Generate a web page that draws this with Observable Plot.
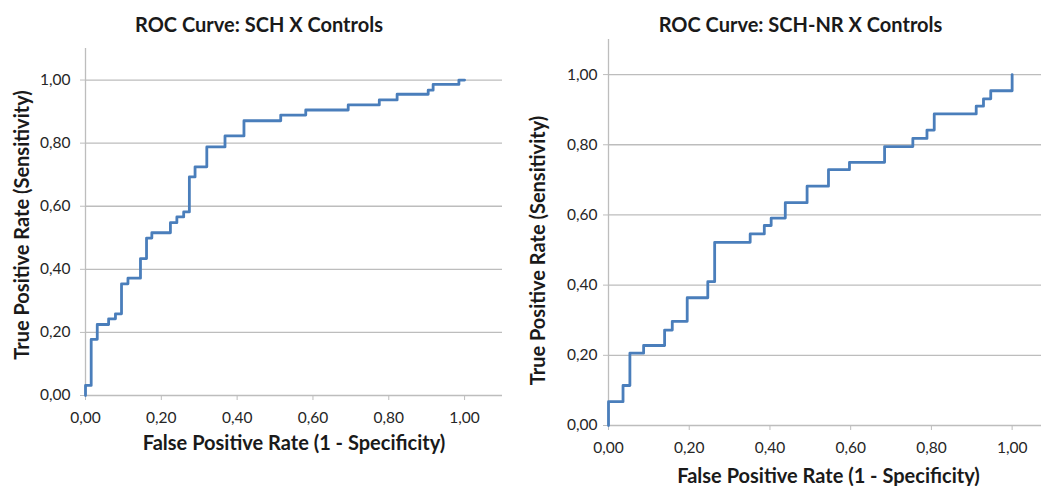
<!DOCTYPE html>
<html>
<head>
<meta charset="utf-8">
<script src="https://cdn.jsdelivr.net/npm/d3@7"></script>
<script src="https://cdn.jsdelivr.net/npm/@observablehq/plot@0.6"></script>
<style>
  html, body { margin: 0; padding: 0; background: #fff; }
  #wrap { position: relative; width: 1041px; height: 486px; overflow: hidden; }
  #left, #right { position: absolute; top: 0; }
  #left { left: 0; width: 520px; }
  #right { left: 520px; width: 540px; }
  svg { max-width: none !important; }
</style>
</head>
<body>
<div id="wrap"><div id="left"></div><div id="right"></div></div>
<script>
const tickValues = [0, 0.2, 0.4, 0.6, 0.8, 1.0];

const titleLeft = "ROC Curve: SCH X Controls";
const fprLeft = [0, 0, 0.015, 0.031, 0.061, 0.079, 0.095, 0.112, 0.145, 0.161, 0.175, 0.224, 0.241, 0.259, 0.274, 0.289, 0.320, 0.368, 0.418, 0.515, 0.581, 0.693, 0.775, 0.822, 0.904, 0.917, 0.985, 1.0];
const tprLeft = [0, 0.032, 0.178, 0.225, 0.243, 0.259, 0.354, 0.372, 0.434, 0.499, 0.516, 0.548, 0.566, 0.582, 0.693, 0.725, 0.788, 0.823, 0.871, 0.889, 0.905, 0.921, 0.937, 0.955, 0.968, 0.986, 1.0, 1.0];

const titleRight = "ROC Curve: SCH-NR X Controls";
const fprRight = [0, 0, 0.036, 0.053, 0.087, 0.139, 0.158, 0.195, 0.246, 0.263, 0.351, 0.386, 0.403, 0.438, 0.492, 0.545, 0.597, 0.684, 0.754, 0.789, 0.807, 0.911, 0.929, 0.947, 1.0];
const tprRight = [0, 0.068, 0.114, 0.206, 0.228, 0.272, 0.297, 0.364, 0.410, 0.522, 0.546, 0.570, 0.591, 0.635, 0.682, 0.729, 0.750, 0.795, 0.818, 0.842, 0.888, 0.910, 0.931, 0.954, 1.0];

const xLabel = "False Positive Rate (1 - Specificity)";
const yLabel = "True Positive Rate (Sensitivity)";

const fmt = d => d.toFixed(2).replace(".", ",");
const font = "Lato, 'Open Sans', sans-serif";

function roc(opts) {
  const data = opts.fpr.map((x, i) => ({fpr: x, tpr: opts.tpr[i]}));
  const label = {fontSize: opts.fs, fontWeight: "bold", fill: "#1a1a1a", textAnchor: "middle", lineAnchor: "middle"};
  return Plot.plot({
    width: opts.width,
    height: 486,
    marginLeft: opts.ml,
    marginRight: opts.mr,
    marginTop: opts.mt,
    marginBottom: opts.mb,
    style: {fontFamily: font, fontSize: "15.5px", color: "#262626", background: "#fff", overflow: "visible", maxWidth: "none"},
    x: {domain: [0, 1.1], axis: null},
    y: {domain: [0, 1.1], axis: null},
    marks: [
      Plot.ruleY(tickValues.slice(1), {stroke: "#bdbdbd", strokeWidth: 1.3}),
      Plot.ruleY([0], {stroke: "#bdbdbd", strokeWidth: 1.3}),
      Plot.ruleX([0], {stroke: "#bdbdbd", strokeWidth: 1.3}),
      Plot.axisX({ticks: tickValues, tickFormat: fmt, tickSize: 5, tickPadding: opts.xpad, stroke: "#bdbdbd", label: null, fontSize: 15.5, fill: "#262626"}),
      Plot.axisY({ticks: tickValues, tickFormat: fmt, tickSize: 5, tickPadding: opts.ypad, stroke: "#bdbdbd", label: null, fontSize: 15.5, fill: "#262626"}),
      Plot.line(data, {x: "fpr", y: "tpr", curve: "step-after", stroke: "#4a7ebb", strokeWidth: 2.8}),
      Plot.text([opts.title], {frameAnchor: "top", dx: opts.tdx, dy: opts.tdy, ...label}),
      Plot.text([xLabel], {frameAnchor: "bottom", dx: opts.xdx, dy: opts.xdy, ...label}),
      Plot.text([yLabel], {frameAnchor: "left", dx: opts.ydx, dy: opts.ydy, rotate: -90, ...label})
    ]
  });
}

document.getElementById("left").append(roc({
  title: titleLeft, fpr: fprLeft, tpr: tprLeft,
  width: 520, ml: 85, mr: 18, mt: 48, mb: 91, fs: 20, xpad: 11, ypad: 10,
  tdx: -35, tdy: -23, xdx: 0, xdy: 48, ydx: -63, ydy: 3
}));
document.getElementById("right").append(roc({
  title: titleRight, fpr: fprRight, tpr: tprRight,
  width: 540, ml: 88, mr: 8, mt: 39, mb: 61, fs: 20, xpad: 11, ypad: 6,
  tdx: -30, tdy: -14, xdx: -2, xdy: 51, ydx: -70, ydy: 18
}));
</script>
</body>
</html>
